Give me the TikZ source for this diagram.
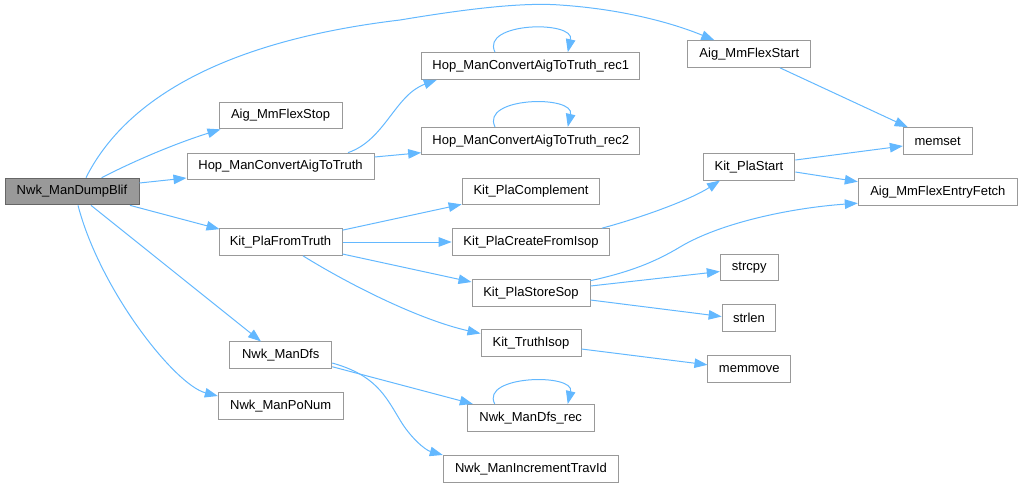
\documentclass[tikz,border=0pt]{standalone}
\usepackage{fontspec}
\setmainfont{Liberation Sans}
\usetikzlibrary{arrows.meta}
\definecolor{edgecol}{HTML}{63B8FF}
\definecolor{nodeborder}{HTML}{999999}
\definecolor{curfill}{HTML}{999999}
\definecolor{curborder}{HTML}{666666}
\begin{document}
\begin{tikzpicture}[x=1pt,y=-1pt,
  box/.style={draw=nodeborder, line width=1pt, fill=white, minimum height=26.7pt, inner sep=0pt, font=\fontsize{13}{15}\selectfont},
  call/.style={draw=edgecol, line width=1pt, -{Triangle[length=13pt,width=9.5pt,fill=edgecol]}}]
\useasboundingbox (0,0) rectangle (1022,488);
% nodes
\node[box, minimum width=134pt, fill=curfill, draw=curborder] (dump) at (72,191.5) {Nwk\_ManDumpBlif};
\node[box, minimum width=123pt] (flexstop) at (280.5,115.5) {Aig\_MmFlexStop};
\node[box, minimum width=187pt] (hop) at (280.5,166.5) {Hop\_ManConvertAigToTruth};
\node[box, minimum width=123pt] (pft) at (280.5,242) {Kit\_PlaFromTruth};
\node[box, minimum width=102pt] (mandfs) at (280.7,355.3) {Nwk\_ManDfs};
\node[box, minimum width=124.7pt] (ponum) at (280.7,406) {Nwk\_ManPoNum};
\node[box, minimum width=218.3pt] (rec1) at (530.8,66) {Hop\_ManConvertAigToTruth\_rec1};
\node[box, minimum width=218.3pt] (rec2) at (530.8,140.7) {Hop\_ManConvertAigToTruth\_rec2};
\node[box, minimum width=122.7pt] (flexstart) at (749.3,54) {Aig\_MmFlexStart};
\node[box, minimum width=91.7pt] (plastart) at (749,166.7) {Kit\_PlaStart};
\node[box, minimum width=137.7pt] (compl) at (531,191.5) {Kit\_PlaComplement};
\node[box, minimum width=157.7pt] (cfi) at (531,242) {Kit\_PlaCreateFromIsop};
\node[box, minimum width=68.7pt] (memset) at (937.7,141) {memset};
\node[box, minimum width=159pt] (fetch) at (937.8,191.7) {Aig\_MmFlexEntryFetch};
\node[box, minimum width=58pt] (strcpy) at (749.3,267.5) {strcpy};
\node[box, minimum width=118pt] (storesop) at (531,293) {Kit\_PlaStoreSop};
\node[box, minimum width=53.7pt] (strlen) at (749,318) {strlen};
\node[box, minimum width=100pt] (isop) at (531,343) {Kit\_TruthIsop};
\node[box, minimum width=82.7pt] (memmove) at (749.3,368.8) {memmove};
\node[box, minimum width=126.7pt] (dfsrec) at (530.7,417.8) {Nwk\_ManDfs\_rec};
\node[box, minimum width=175.4pt] (travid) at (531,468.8) {Nwk\_ManIncrementTravId};
% edges from Nwk_ManDumpBlif
\draw[call] ([xshift=14pt]dump.north) .. controls (115,120) and (190,45) .. (400,20)
  .. controls (460,10) and (520,2) .. (560,5) .. controls (620,9) and (670,22) .. ([xshift=-35pt]flexstart.north);
\draw[call] ([xshift=29.7pt]dump.north) .. controls (140,158) and (180,142) .. ([xshift=2pt]flexstop.south west);
\draw[call] ([yshift=8.5pt]dump.east) -- ([yshift=-11.5pt]hop.west);
\draw[call] ([xshift=58pt]dump.south) -- ([xshift=1pt,yshift=-1pt]pft.north west);
\draw[call] ([xshift=19pt]dump.south) -- ([xshift=-19.7pt]mandfs.north);
\draw[call] ([xshift=6pt]dump.south) .. controls (100,290) and (175,385) .. ([yshift=10pt]ponum.west);
% Hop
\draw[call] ([xshift=67.5pt]hop.north) .. controls (385,140) and (395,95) .. ([xshift=-94pt]rec1.south);
\draw[call] ([yshift=9.5pt]hop.east) -- ([yshift=-12pt]rec2.west);
\draw[call] ([xshift=-35.8pt]rec1.north) .. controls (480,22) and (575,20) .. ([xshift=37pt]rec1.north);
\draw[call] ([xshift=-35.8pt]rec2.north) .. controls (480,96.7) and (575,94.7) .. ([xshift=37pt]rec2.north);
% Aig_MmFlexStart / Kit_PlaStart
\draw[call] ([xshift=30.7pt]flexstart.south) -- ([xshift=-30pt]memset.north);
\draw[call] ([yshift=6.7pt]plastart.east) -- ([yshift=-5pt]memset.west);
\draw[call] ([yshift=-5.3pt]plastart.east) -- ([yshift=10pt]fetch.west);
% Kit_PlaFromTruth
\draw[call] ([yshift=-2pt]pft.north east) -- ([yshift=1pt]compl.south west);
\draw[call] (pft.east) -- (cfi.west);
\draw[call] ([yshift=-12pt]pft.east) -- ([yshift=11pt]storesop.west);
\draw[call] ([xshift=22.5pt]pft.south) .. controls (350,285) and (420,320) .. ([yshift=9.5pt]isop.west);
% Kit_PlaCreateFromIsop
\draw[call] ([xshift=71pt]cfi.north) .. controls (640,218) and (690,200) .. ([xshift=-29pt]plastart.south);
% Kit_PlaStoreSop
\draw[call] ([yshift=-1.5pt]storesop.north east) .. controls (630,272) and (655,262) .. (680,247)
  .. controls (720,223) and (790,208) .. ([yshift=-11.5pt]fetch.west);
\draw[call] ([yshift=7pt]storesop.east) -- ([yshift=-4pt]strcpy.west);
\draw[call] ([yshift=-7pt]storesop.east) -- ([yshift=1.5pt]strlen.west);
% Kit_TruthIsop
\draw[call] ([yshift=-6pt]isop.east) -- ([yshift=4pt]memmove.west);
% Nwk_ManDfs
\draw[call] ([yshift=-11.4pt]mandfs.east) -- ([xshift=6pt]dfsrec.north west);
\draw[call] ([yshift=-7.7pt]mandfs.east) .. controls (375,375) and (385,395) .. (400,420)
  .. controls (410,437) and (425,450) .. (travid.north west);
\draw[call] ([xshift=-36pt]dfsrec.north) .. controls (480,375) and (575,373) .. ([xshift=37pt]dfsrec.north);
\end{tikzpicture}
\end{document}
